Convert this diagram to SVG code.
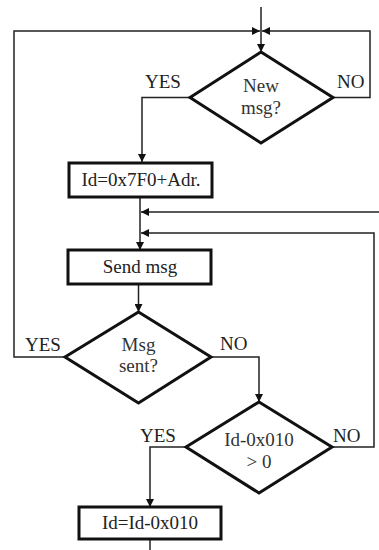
<svg xmlns="http://www.w3.org/2000/svg" width="379" height="550" viewBox="0 0 379 550">
<style>
.shape{fill:#fff;stroke:#111;stroke-width:3;stroke-linejoin:miter}
.conn{fill:none;stroke:#222;stroke-width:1.5}
text{font-family:"Liberation Serif","Times New Roman",serif;font-size:19px;fill:#222}
.c{text-anchor:middle}
.d{fill:#333}
</style>
<defs>
<marker id="ah" viewBox="0 0 10 10" refX="10" refY="5" markerWidth="9" markerHeight="8" orient="auto" markerUnits="userSpaceOnUse"><path d="M0,0 L10,5 L0,10 z" fill="#111"/></marker>
</defs>
<g id="connectors">
<path class="conn" d="M261,7 V52" marker-end="url(#ah)"/>
<path class="conn" d="M65,357 H14 V31 H260" marker-end="url(#ah)"/>
<path class="conn" d="M333,97.5 H370 V31 H262" marker-end="url(#ah)"/>
<path class="conn" d="M190,97.5 H142 V162" marker-end="url(#ah)"/>
<path class="conn" d="M140,197 V250" marker-end="url(#ah)"/>
<path class="conn" d="M379,212 H141" marker-end="url(#ah)"/>
<path class="conn" d="M332,447 H374 V233 H141" marker-end="url(#ah)"/>
<path class="conn" d="M138.5,284 V312" marker-end="url(#ah)"/>
<path class="conn" d="M211,357 H259 V402" marker-end="url(#ah)"/>
<path class="conn" d="M186,447 H150 V507" marker-end="url(#ah)"/>
<path class="conn" d="M150,539 V550"/>
<text x="145" y="88">YES</text>
<text x="337" y="88">NO</text>
<text x="25" y="351">YES</text>
<text x="220" y="350">NO</text>
<text x="140" y="442">YES</text>
<text x="333" y="442">NO</text>
</g>
<g id="new-msg">
<polygon class="shape" points="261,52 333,97.5 261,143 190,97.5"/>
<text class="c d" x="261" y="92">New</text>
<text class="c d" x="261" y="114">msg?</text>
</g>
<g id="set-id">
<rect class="shape" x="69" y="163" width="143" height="34"/>
<text class="c" x="141" y="186">Id=0x7F0+Adr.</text>
</g>
<g id="send-msg">
<rect class="shape" x="68" y="250" width="143" height="34"/>
<text class="c" x="140" y="273">Send msg</text>
</g>
<g id="msg-sent">
<polygon class="shape" points="138.5,312 211,357 138.5,403 65,357"/>
<text class="c d" x="138.5" y="351">Msg</text>
<text class="c d" x="138.5" y="372">sent?</text>
</g>
<g id="id-check">
<polygon class="shape" points="259,402 332,447 259,493 186,447"/>
<text class="c d" x="259" y="446">Id-0x010</text>
<text class="c d" x="259" y="468">&gt; 0</text>
</g>
<g id="id-dec">
<rect class="shape" x="79" y="507" width="142" height="32"/>
<text class="c" x="150" y="529">Id=Id-0x010</text>
</g>
</svg>
